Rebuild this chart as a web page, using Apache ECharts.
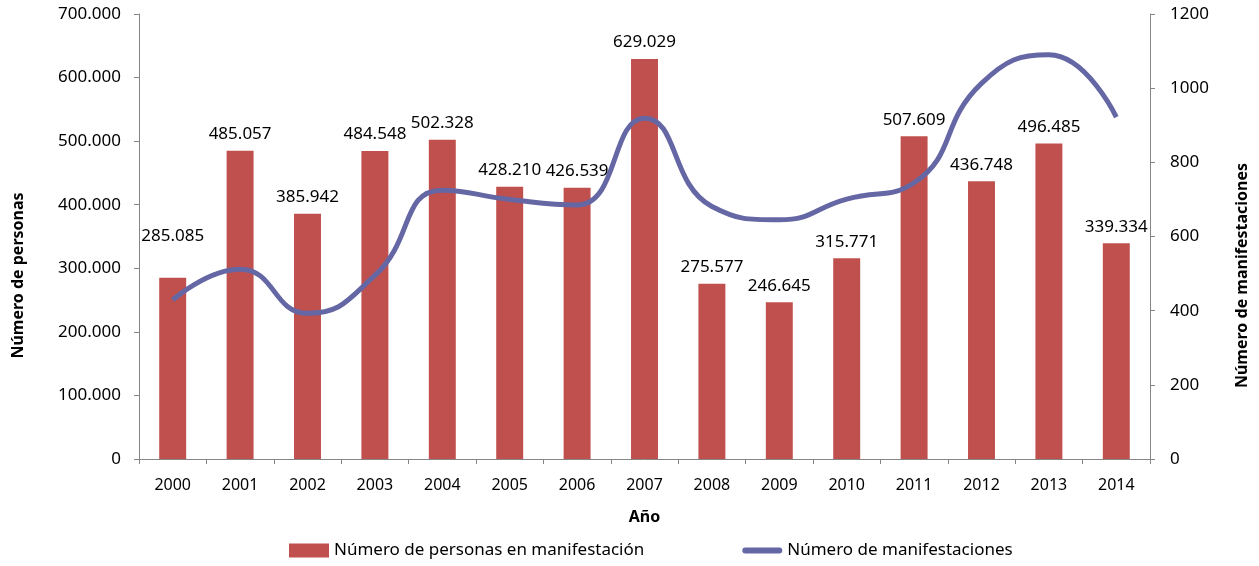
<!DOCTYPE html>
<html>
<head>
<meta charset="utf-8">
<script src="https://cdn.jsdelivr.net/npm/echarts@6/dist/echarts.min.js"></script>
<style>
  html, body { margin: 0; padding: 0; background: #fff; }
  #chart { width: 1259px; height: 566px; }
</style>
</head>
<body>
<div id="chart"></div>
<script>
// años
const years = ['2000', '2001', '2002', '2003', '2004', '2005', '2006', '2007',
  '2008', '2009', '2010', '2011', '2012', '2013', '2014']
// número de personas en manifestación (barras, eje izquierdo)
const personas = [285085, 485057, 385942, 484548, 502328, 428210, 426539, 629029,
  275577, 246645, 315771, 507609, 436748, 496485, 339334]
// número de manifestaciones (línea, eje derecho)
const manifestaciones = [429, 512, 393, 495, 725, 700, 685, 919,
  681, 645, 701, 745, 1013, 1090, 922]

const fmt = v => String(v).replace(/\B(?=(\d{3})+(?!\d))/g, '.')

const chart = echarts.init(document.getElementById('chart'))
const font = 'Noto Sans'
const axisGrey = '#868686'
const lineColor = '#6567A5'

const barData = personas.map((v, i) => {
  // la etiqueta del 2000 queda más alta en el original
  if (i === 0) return { value: v, label: { distance: 33 } }
  return v
})

// títulos de eje: en el original están algo por debajo del centro
const axisTitle = {
  fontFamily: font, fontSize: 16, fontWeight: 'bold', color: '#000',
  padding: [0, 78, 0, 0]
}

const option = {
  animation: false,
  textStyle: { fontFamily: font },
  grid: { left: 139, right: 109, top: 14, bottom: 107 },
  legend: {
    bottom: 2,
    left: 284,
    itemWidth: 40,
    itemHeight: 14,
    itemGap: 98,
    textStyle: { fontFamily: font, fontSize: 17, color: '#000' },
    data: [
      { name: 'Número de personas en manifestación', icon: 'rect' },
      { name: 'Número de manifestaciones', icon: 'path://M3,0H37A3,3 0 0 1 37,6H3A3,3 0 0 1 3,0Z' }
    ]
  },
  xAxis: {
    type: 'category',
    data: years,
    boundaryGap: true,
    name: 'Año',
    nameLocation: 'middle',
    nameGap: 50,
    nameTextStyle: { fontFamily: font, fontSize: 16, fontWeight: 'bold', color: '#000' },
    axisLine: { lineStyle: { color: axisGrey, width: 1 } },
    axisTick: { show: true, interval: 0, length: 5, lineStyle: { color: axisGrey } },
    axisLabel: { margin: 18, fontSize: 16, color: '#000', interval: 0 }
  },
  yAxis: [
    {
      type: 'value',
      min: 0,
      max: 700000,
      interval: 100000,
      name: 'Número de personas',
      nameLocation: 'middle',
      nameRotate: 90,
      nameGap: 113,
      nameTextStyle: axisTitle,
      splitLine: { show: false },
      axisLine: { show: true, lineStyle: { color: axisGrey } },
      axisTick: { show: true, length: 5, lineStyle: { color: axisGrey } },
      axisLabel: { margin: 18, fontSize: 17, color: '#000', formatter: fmt }
    },
    {
      type: 'value',
      min: 0,
      max: 1200,
      interval: 200,
      position: 'right',
      name: 'Número de manifestaciones',
      nameLocation: 'middle',
      nameRotate: 90,
      nameGap: 84,
      nameTextStyle: axisTitle,
      splitLine: { show: false },
      axisLine: { show: true, lineStyle: { color: axisGrey } },
      axisTick: { show: true, length: 5, lineStyle: { color: axisGrey } },
      axisLabel: { margin: 20, fontSize: 17, color: '#000', formatter: v => String(v) }
    }
  ],
  series: [
    {
      name: 'Número de personas en manifestación',
      type: 'bar',
      yAxisIndex: 0,
      barWidth: '40%',
      itemStyle: { color: '#C0504D' },
      label: {
        show: true,
        position: 'top',
        distance: 8,
        fontSize: 17,
        color: '#000',
        formatter: p => fmt(p.value)
      },
      data: barData
    },
    {
      name: 'Número de manifestaciones',
      type: 'line',
      yAxisIndex: 1,
      smooth: 0.5,
      symbol: 'none',
      lineStyle: { color: lineColor, width: 5 },
      itemStyle: { color: lineColor },
      z: 3,
      data: manifestaciones
    }
  ]
}

chart.setOption(option)
</script>
</body>
</html>
